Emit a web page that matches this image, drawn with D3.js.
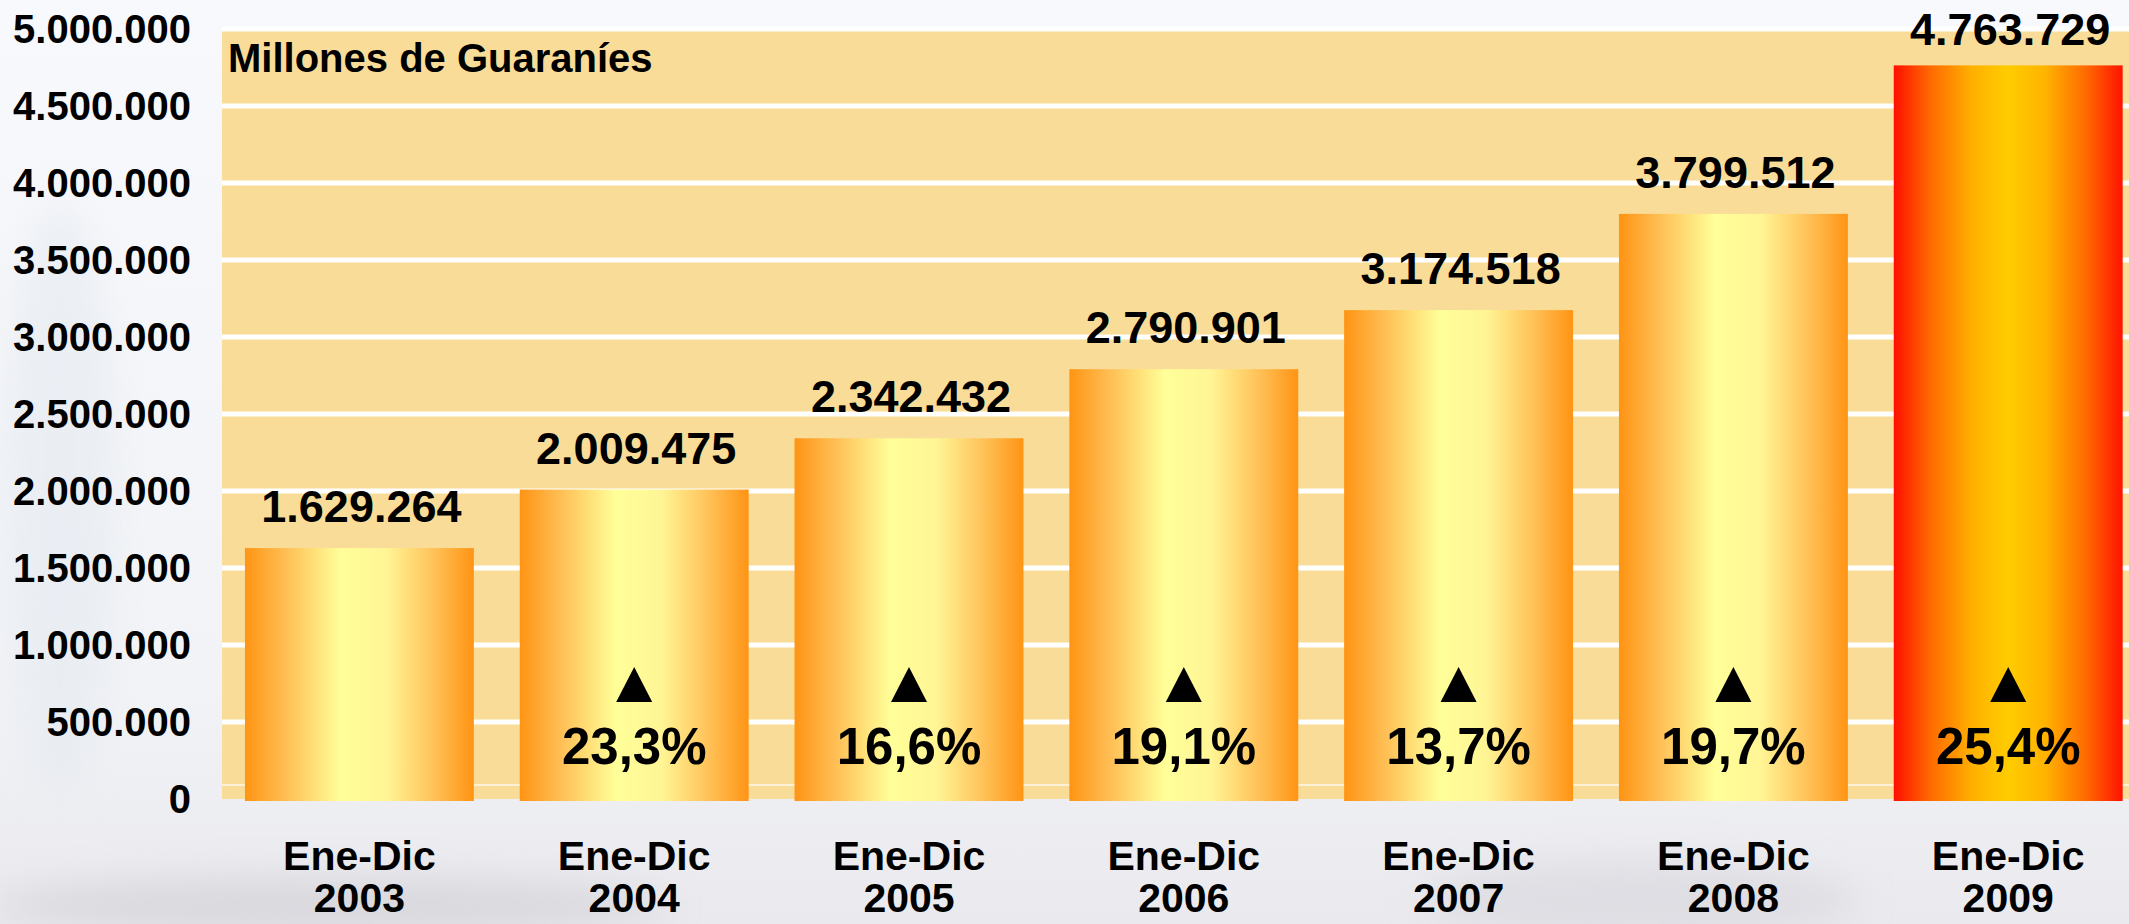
<!DOCTYPE html>
<html lang="es">
<head>
<meta charset="utf-8">
<title>Millones de Guaraníes</title>
<script src="https://cdnjs.cloudflare.com/ajax/libs/d3/7.8.5/d3.min.js"></script>
<style>
  html, body { margin: 0; padding: 0; }
  body { width: 2129px; height: 924px; overflow: hidden; background: #f6f7f9; }
  svg text { font-family: 'Liberation Sans', Arial, sans-serif; font-weight: bold; fill: #000; }
</style>
</head>
<body>
<svg id="chart" width="2129" height="924"></svg>
<script>
// data
var periods = ["2003", "2004", "2005", "2006", "2007", "2008", "2009"];
var periodPrefix = "Ene-Dic";
var values = [1629264, 2009475, 2342432, 2790901, 3174518, 3799512, 4763729];
var growth = [null, "23,3%", "16,6%", "19,1%", "13,7%", "19,7%", "25,4%"];
var yTicks = [0, 500000, 1000000, 1500000, 2000000, 2500000, 3000000, 3500000, 4000000, 4500000, 5000000];
var unitLabel = "Millones de Guaraníes";
var highlight = "2009";

var svg = d3.select("#chart"),
    width = +svg.attr("width"),
    height = +svg.attr("height");

var margin = {left: 222, top: 29, bottom: 125};

var x = d3.scaleBand()
    .domain(periods)
    .range([margin.left, margin.left + 7 * 274.8])
    .paddingInner(0.167)
    .paddingOuter(0.0835);

var y = d3.scaleLinear()
    .domain([0, 5000000])
    .range([height - margin.bottom, margin.top]);

var fmt = function(v) { return d3.format(",")(v).replace(/,/g, "."); };

var defs = svg.append("defs");

// page background
var bg = defs.append("linearGradient").attr("id", "pageBg")
    .attr("x1", 0).attr("y1", 0).attr("x2", 0).attr("y2", 1);
bg.append("stop").attr("offset", "0%").attr("stop-color", "#f8f9fc");
bg.append("stop").attr("offset", "75%").attr("stop-color", "#f2f3f6");
bg.append("stop").attr("offset", "100%").attr("stop-color", "#e9e9ee");

defs.append("filter").attr("id", "blur")
  .append("feGaussianBlur").attr("stdDeviation", 18);

var orange = defs.append("linearGradient").attr("id", "barOrange")
    .attr("x1", 0).attr("y1", 0).attr("x2", 1).attr("y2", 0);
[["0%", "#ff9414"], ["18%", "#ffbf55"], ["42%", "#ffff99"], ["62%", "#fff595"], ["82%", "#ffc35a"], ["100%", "#ff9414"]]
  .forEach(function(s) { orange.append("stop").attr("offset", s[0]).attr("stop-color", s[1]); });

var red = defs.append("linearGradient").attr("id", "barRed")
    .attr("x1", 0).attr("y1", 0).attr("x2", 1).attr("y2", 0);
[["0%", "#ff0f00"], ["16%", "#ff6a00"], ["34%", "#ffb000"], ["50%", "#ffcc00"], ["66%", "#ffb400"], ["84%", "#ff6a00"], ["100%", "#ff1200"]]
  .forEach(function(s) { red.append("stop").attr("offset", s[0]).attr("stop-color", s[1]); });

svg.append("rect").attr("width", width).attr("height", height).attr("fill", "url(#pageBg)");

// faint watermark smudges
var smudges = svg.append("g").attr("filter", "url(#blur)").attr("opacity", 0.55);
smudges.append("ellipse").attr("cx", 330).attr("cy", 905).attr("rx", 340).attr("ry", 28).attr("fill", "#c9c9cf");
smudges.append("ellipse").attr("cx", 1640).attr("cy", 900).attr("rx", 220).attr("ry", 40).attr("fill", "#d4d4da");
smudges.append("ellipse").attr("cx", 60).attr("cy", 500).attr("rx", 60).attr("ry", 300).attr("fill", "#e3e9f0");

// plot band
svg.append("rect")
    .attr("x", margin.left)
    .attr("y", y(5000000))
    .attr("width", width - margin.left)
    .attr("height", y(0) - y(5000000))
    .attr("fill", "#f9dc97");

// gridlines
svg.append("g").selectAll("line")
  .data(yTicks.filter(function(d) { return d > 0; }))
  .enter().append("line")
    .attr("x1", margin.left).attr("x2", width)
    .attr("y1", function(d) { return y(d); })
    .attr("y2", function(d) { return y(d); })
    .attr("stroke", "#ffffff")
    .attr("stroke-width", 5);

// floor edge
svg.append("line")
    .attr("x1", margin.left).attr("x2", width)
    .attr("y1", y(0) - 14).attr("y2", y(0) - 14)
    .attr("stroke", "#ffffff").attr("stroke-opacity", 0.8)
    .attr("stroke-width", 1.5);

// y axis labels
svg.append("g").selectAll("text")
  .data(yTicks)
  .enter().append("text")
    .attr("x", 191)
    .attr("y", function(d) { return y(d); })
    .attr("dy", "0.36em")
    .attr("text-anchor", "end")
    .style("font-size", "40px")
    .text(fmt);

svg.append("text")
    .attr("x", margin.left + 6)
    .attr("y", y(5000000) + 43)
    .style("font-size", "40px")
    .text(unitLabel);

// bars
svg.append("g").selectAll("rect")
  .data(periods)
  .enter().append("rect")
    .attr("x", function(d) { return x(d); })
    .attr("y", function(d, i) { return y(values[i]); })
    .attr("width", x.bandwidth())
    .attr("height", function(d, i) { return y(0) - y(values[i]) + 2; })
    .attr("fill", function(d) { return d === highlight ? "url(#barRed)" : "url(#barOrange)"; });

// value labels
svg.append("g").selectAll("text")
  .data(periods)
  .enter().append("text")
    .attr("x", function(d) { return x(d) + x.bandwidth() / 2 + 2; })
    .attr("y", function(d, i) { return Math.max(y(values[i]) - 26, 45); })
    .attr("text-anchor", "middle")
    .style("font-size", "45px")
    .text(function(d, i) { return fmt(values[i]); });

// growth markers
var g = svg.append("g").selectAll("g")
  .data(periods.filter(function(d, i) { return growth[i]; }))
  .enter().append("g")
    .attr("transform", function(d) { return "translate(" + (x(d) + x.bandwidth() / 2) + "," + (y(0) - 35) + ")"; });

g.append("path")
    .attr("d", "M0,-97 L18,-62 L-18,-62 Z")
    .attr("fill", "#000");

g.append("text")
    .attr("text-anchor", "middle")
    .style("font-size", "51px")
    .text(function(d) { return growth[periods.indexOf(d)]; });

// category labels
var cat = svg.append("g").selectAll("text")
  .data(periods)
  .enter().append("text")
    .attr("x", function(d) { return x(d) + x.bandwidth() / 2; })
    .attr("y", y(0) + 71)
    .attr("text-anchor", "middle")
    .style("font-size", "41px");

cat.append("tspan").text(periodPrefix);
cat.append("tspan")
    .attr("x", function(d) { return x(d) + x.bandwidth() / 2; })
    .attr("dy", 42)
    .text(function(d) { return d; });
</script>
</body>
</html>
